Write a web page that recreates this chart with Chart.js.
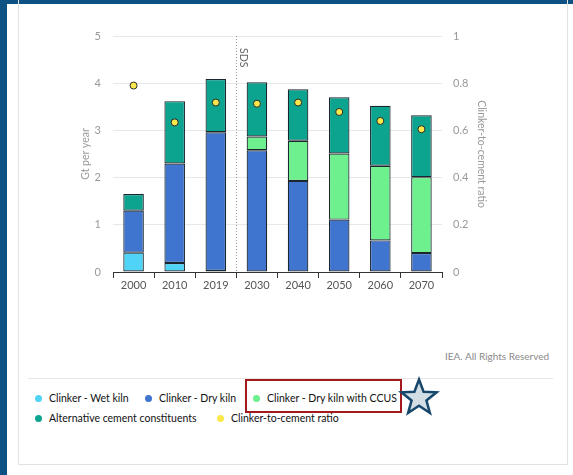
<!DOCTYPE html>
<html>
<head>
<meta charset="utf-8">
<script src="https://cdn.jsdelivr.net/npm/chart.js@4.4.0/dist/chart.umd.min.js"></script>
<style>
  body { margin: 0; width: 573px; height: 475px; overflow: hidden; background: #0d5282; position: relative; font-family: Lato, sans-serif; }
  #sheet { position: absolute; left: 7px; top: 4px; right: 0; bottom: 0; background: #fff; }
  #card { position: absolute; left: 18px; top: -10px; width: 550px; height: 475px; border: 1px solid #e2e2e2; box-sizing: border-box; }
  #stock { position: absolute; left: 0; top: 0; }
  #credit { position: absolute; left: 445px; top: 350px; font-size: 10px; color: #8a8a8a; white-space: nowrap; }
  #rule { position: absolute; left: 28px; top: 378px; width: 525px; height: 1px; background: #e6e6e6; }
  .item { position: absolute; font-size: 10.5px; color: #111; white-space: nowrap; line-height: 12px; }
  .item i { position: absolute; left: -14px; top: 3px; width: 7px; height: 7px; border-radius: 50%; }
  #mark { position: absolute; left: 245px; top: 379px; width: 157px; height: 34px; border: 2px solid #a3191c; box-sizing: border-box; }
  #star { position: absolute; left: 398px; top: 376px; }
</style>
</head>
<body>
<div id="sheet"></div>
<div id="card"></div>
<canvas id="stock" width="573" height="310"></canvas>
<div id="credit">IEA. All Rights Reserved</div>
<div id="rule"></div>
<div id="legend"></div>
<div id="mark"></div>
<svg id="star" width="42" height="42" viewBox="0 0 42 42"></svg>
<script>
// years on the x axis
const years = ['2000', '2010', '2019', '2030', '2040', '2050', '2060', '2070'];

// cement output by component, Gt per year
const wet_kiln = [0.41, 0.19, 0.02, null, null, null, null, null];
const dry_kiln = [0.89, 2.11, 2.94, 2.58, 1.93, 1.11, 0.67, 0.40];
const dry_kiln_ccus = [null, null, null, 0.29, 0.85, 1.40, 1.58, 1.61];
const alternative = [0.35, 1.32, 1.13, 1.15, 1.09, 1.19, 1.27, 1.31];

// clinker-to-cement ratio, right axis
const clinker_ratio = [0.79, 0.634, 0.718, 0.713, 0.718, 0.678, 0.64, 0.605];

// first scenario year (SDS starts between 2019 and 2030)
const sds_start = 3;

// legend spots, left edge of each label
const legend_spots = [[49, 392], [159, 392], [267, 392], [49, 412], [231, 412]];

const edge = '#1b252c';

function bar_set(label, data, color) {
    return {
        label: label,
        data: data,
        backgroundColor: color,
        borderColor: edge,
        borderWidth: 1.2,
        borderSkipped: false,
        barPercentage: 0.5,
        categoryPercentage: 1,
        stack: 'cement',
        yAxisID: 'y',
        order: 1
    };
}

// dotted divider with the scenario name
const sds_line = {
    id: 'sds_line',
    beforeDatasetsDraw(chart) {
        const x_scale = chart.scales.x;
        const area = chart.chartArea;
        const x = Math.round((x_scale.getPixelForValue(sds_start - 1) + x_scale.getPixelForValue(sds_start)) / 2) + 0.5;
        const ctx = chart.ctx;
        ctx.save();
        ctx.strokeStyle = '#9a9a9a';
        ctx.lineWidth = 1;
        ctx.setLineDash([1, 2]);
        ctx.beginPath();
        ctx.moveTo(x, area.top);
        ctx.lineTo(x, area.bottom);
        ctx.stroke();
        ctx.setLineDash([]);
        ctx.translate(x + 7, area.top + 12);
        ctx.rotate(Math.PI / 2);
        ctx.fillStyle = '#666';
        ctx.font = '10.5px Lato, sans-serif';
        ctx.textBaseline = 'middle';
        ctx.fillText('SDS', 0, 0);
        ctx.restore();
    }
};

const stock_chart = new Chart(document.getElementById('stock'), {
    type: 'bar',
    data: {
        labels: years,
        datasets: [
            bar_set('Clinker - Wet kiln', wet_kiln, '#4fd3f7'),
            bar_set('Clinker - Dry kiln', dry_kiln, '#3f74cf'),
            bar_set('Clinker - Dry kiln with CCUS', dry_kiln_ccus, '#6ef08f'),
            bar_set('Alternative cement constituents', alternative, '#0ca38f'),
            {
                type: 'line',
                label: 'Clinker-to-cement ratio',
                data: clinker_ratio,
                showLine: false,
                pointRadius: 3.5,
                pointBorderWidth: 1,
                pointBackgroundColor: '#fbe84a',
                pointBorderColor: '#2b2b2b',
                backgroundColor: '#fbe84a',
                yAxisID: 'y1',
                order: 0
            }
        ]
    },
    options: {
        responsive: false,
        animation: false,
        layout: { padding: { left: 73, right: 81, top: 36, bottom: 10 } },
        plugins: { legend: { display: false }, tooltip: { enabled: false } },
        scales: {
            x: {
                stacked: true,
                offset: true,
                grid: { offset: true, drawOnChartArea: false, drawTicks: true, tickLength: 6, tickColor: '#333', lineWidth: 1 },
                border: { display: true, color: '#333', width: 1 },
                ticks: { color: '#555', padding: 1, font: { family: 'Lato', size: 11 } },
                afterFit: function(scale) { scale.height = 28; }
            },
            y: {
                stacked: true,
                min: 0,
                max: 5,
                ticks: { stepSize: 1, color: '#999', padding: 12, font: { family: 'Lato', size: 11 } },
                grid: { color: '#e8e8e8', drawTicks: false },
                border: { display: false },
                title: { display: true, text: 'Gt per year', color: '#999', padding: { top: 6 }, font: { family: 'Lato', size: 10.5 } },
                afterFit: function(scale) { scale.width = 40; }
            },
            y1: {
                position: 'right',
                min: 0,
                max: 1,
                ticks: {
                    stepSize: 0.2,
                    color: '#999',
                    padding: 11,
                    font: { family: 'Lato', size: 11 },
                    callback: function(value) { return String(Number(value.toFixed(1))); }
                },
                grid: { drawOnChartArea: false, drawTicks: false },
                border: { display: false },
                title: { display: true, text: 'Clinker-to-cement ratio', color: '#999', padding: { top: 4 }, font: { family: 'Lato', size: 10.5 } },
                afterFit: function(scale) { scale.width = 50; }
            }
        }
    },
    plugins: [sds_line]
});

// legend built from the chart's own datasets
const legend = document.getElementById('legend');
stock_chart.data.datasets.forEach(function(set, i) {
    const item = document.createElement('div');
    item.className = 'item';
    item.style.left = legend_spots[i][0] + 'px';
    item.style.top = legend_spots[i][1] + 'px';
    const dot = document.createElement('i');
    dot.style.background = set.backgroundColor;
    item.appendChild(dot);
    item.appendChild(document.createTextNode(set.label));
    legend.appendChild(item);
});

// five-pointed star beside the highlighted entry
const star = document.getElementById('star');
const points = [];
for (let k = 0; k < 10; k++) {
    const r = k % 2 === 0 ? 18.5 : 7.8;
    const a = -Math.PI / 2 + k * Math.PI / 5;
    points.push((21 + r * Math.cos(a)).toFixed(2) + ',' + (22 + r * Math.sin(a)).toFixed(2));
}
star.innerHTML = '<polygon points="' + points.join(' ') + '" fill="#d3dde4" stroke="#17476b" stroke-width="2.5" stroke-linejoin="miter"/>';
</script>
</body>
</html>
